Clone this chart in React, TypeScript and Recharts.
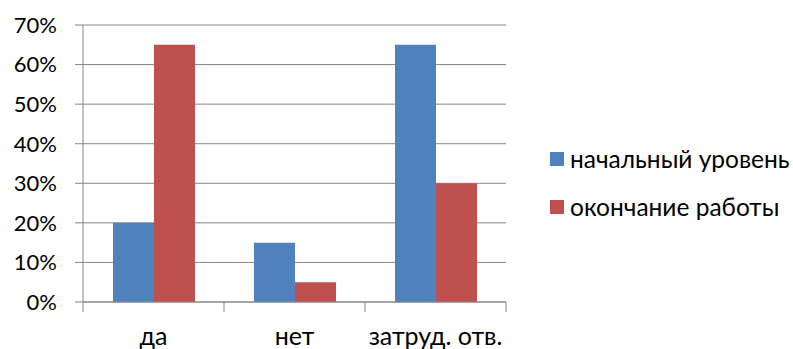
import React from "react";
import { BarChart, Bar, XAxis, YAxis, CartesianGrid, Legend } from "recharts";

const categories = ["да", "нет", "затруд. отв."];
const initialLevel = [20, 15, 65];
const workEnd = [65, 5, 30];
const yTicks = [0, 10, 20, 30, 40, 50, 60, 70];
const seriesNames = ["начальный уровень", "окончание работы"];

const BLUE = "#4F81BD";
const RED = "#C0504D";
const GRID = "#868686";
const FONT = "Lato, 'Open Sans', sans-serif";

const data = categories.map((c, i) => ({
  name: c,
  initial: initialLevel[i],
  end: workEnd[i],
}));

// Category label with tick marks drawn at the band boundaries (between categories).
const CategoryTick = (props: any) => {
  const { x, y, payload, index, visibleTicksCount } = props;
  const half = payload.offset || 0;
  const axisY = y - 27;
  const last = index === visibleTicksCount - 1;
  return (
    <g>
      <line x1={x - half} x2={x - half} y1={axisY} y2={axisY + 10} stroke={GRID} />
      {last && <line x1={x + half} x2={x + half} y1={axisY} y2={axisY + 10} stroke={GRID} />}
      <text
        x={x}
        y={axisY + 43}
        textAnchor="middle"
        fill="#000"
        fontSize={25}
        fontFamily={FONT}
      >
        {payload.value}
      </text>
    </g>
  );
};

const LegendBox = ({ payload }: any) => (
  <div style={{ fontFamily: FONT, fontSize: 24.5, color: "#000", lineHeight: "28px" }}>
    {(payload || []).map((p: any) => (
      <div
        key={p.value}
        style={{ display: "flex", alignItems: "center", height: 48, whiteSpace: "nowrap" }}
      >
        <span
          style={{ width: 14, height: 14, background: p.color, display: "inline-block", marginRight: 6 }}
        />
        <span>{p.value}</span>
      </div>
    ))}
  </div>
);

export default function App() {
  return (
    <div style={{ position: "absolute", left: 0, top: 0, width: 793, height: 349, background: "#fff" }}>
      <BarChart
        width={793}
        height={349}
        data={data}
        margin={{ top: 25, right: 287, bottom: 0, left: 0 }}
        barCategoryGap={30}
        barGap={0}
      >
        <CartesianGrid vertical={false} stroke={GRID} strokeWidth={1} />
        <XAxis
          dataKey="name"
          height={47}
          interval={0}
          axisLine={{ stroke: GRID }}
          tickLine={false}
          tickSize={10}
          tickMargin={17}
          tick={<CategoryTick />}
        />
        <YAxis
          width={83}
          domain={[0, 70]}
          ticks={yTicks}
          interval={0}
          tickFormatter={(v: number) => `${v}%`}
          axisLine={{ stroke: GRID }}
          tickLine={{ stroke: GRID }}
          tickSize={8}
          tickMargin={18}
          tick={{ fill: "#000", fontSize: 22, fontFamily: FONT }}
        />
        <Legend
          layout="horizontal"
          verticalAlign="middle"
          align="center"
          content={<LegendBox />}
          wrapperStyle={{ position: "absolute", left: 550, top: 135, width: 243 }}
        />
        <Bar dataKey="initial" name={seriesNames[0]} fill={BLUE} isAnimationActive={false} />
        <Bar dataKey="end" name={seriesNames[1]} fill={RED} isAnimationActive={false} />
      </BarChart>
    </div>
  );
}
